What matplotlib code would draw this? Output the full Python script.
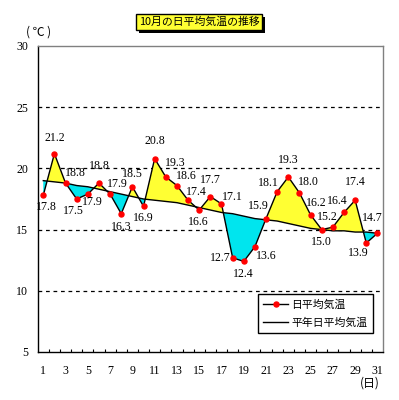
import numpy as np
import matplotlib.pyplot as plt
from matplotlib import patheffects

plt.rcParams['font.family'] = ['Liberation Serif', 'Noto Sans CJK JP']

days = np.arange(1, 32)
daily_mean = [17.8, 21.2, 18.8, 17.5, 17.9, 18.8, 17.9, 16.3, 18.5, 16.9,
              20.8, 19.3, 18.6, 17.4, 16.6, 17.7, 17.1, 12.7, 12.4, 13.6,
              15.9, 18.1, 19.3, 18.0, 16.2, 15.0, 15.2, 16.4, 17.4, 13.9, 14.7]
normal_mean = [19.0, 18.9, 18.8, 18.6, 18.5, 18.3, 18.1, 17.9, 17.7, 17.5,
               17.4, 17.3, 17.2, 17.0, 16.8, 16.6, 16.4, 16.3, 16.1, 15.9,
               15.8, 15.7, 15.5, 15.3, 15.1, 15.0, 14.9, 14.9, 14.8, 14.8, 14.7]
xtick_days = list(range(1, 32, 2))
yticks = [5, 10, 15, 20, 25, 30]

# where each value label sits relative to its point (pixels, +y = down)
label_offsets = [(3, 12), (0, -16), (10, -10), (-3, 12), (5, 8), (0, -17), (7, -10),
                 (0, 13), (0, -13), (0, 12), (0, -18), (9, -14), (9, -10), (8, -8),
                 (-1, 12), (0, -17), (11, -7), (-12, 0), (0, 13), (11, 9), (-8, -13),
                 (-9, -9), (0, -17), (9, -11), (6, -12), (0, 12), (-6, -10), (-7, -11),
                 (0, -18), (-8, 10), (-5, -15)]

act = np.array(daily_mean)
nor = np.array(normal_mean)

fig = plt.figure(figsize=(3.99, 4.0), dpi=100)
ax = fig.add_axes([37.7 / 399, 48 / 400, 345.3 / 399, 306 / 400])

ax.fill_between(days, act, nor, where=act >= nor, interpolate=True,
                color='#ffff33', linewidth=0, zorder=1)
ax.fill_between(days, act, nor, where=act <= nor, interpolate=True,
                color='#00e5ee', linewidth=0, zorder=1)
ax.plot(days, nor, color='black', linewidth=1, zorder=2, label='平年日平均気温')
ax.plot(days, act, color='black', linewidth=1, zorder=3)
ax.plot(days, act, linestyle='none', marker='o', markersize=3.6,
        color='red', zorder=4)
h1, = ax.plot([], [], color='black', linewidth=1, marker='o', markersize=3.6,
              markerfacecolor='red', markeredgecolor='red')

for d, v, (dx, dy) in zip(days, daily_mean, label_offsets):
    ax.annotate(f'{v:.1f}', (d, v), xytext=(dx * 0.72, -dy * 0.72),
                textcoords='offset points', ha='center', va='center',
                fontsize=8.6, zorder=5)

for y in [10, 15, 20, 25]:
    ax.axhline(y, color='black', linewidth=0.9, linestyle=(0, (3, 3)), zorder=0)

ax.set_xlim(0.5, 31.5)
ax.set_ylim(5, 30)
ax.set_xticks(xtick_days)
ax.set_xticks(np.arange(1.5, 31, 1), minor=True)
ax.set_yticks(yticks)
ax.tick_params(axis='x', which='major', length=0, pad=9, labelsize=8.6)
ax.tick_params(axis='x', which='minor', direction='in', length=2.5, width=0.8)
ax.tick_params(axis='y', length=0, pad=7, labelsize=8.6)

for s in ['left', 'bottom']:
    ax.spines[s].set_color('black')
    ax.spines[s].set_linewidth(1)
for s in ['top', 'right']:
    ax.spines[s].set_color('#808080')
    ax.spines[s].set_linewidth(1)

handles = [h1, ax.get_lines()[0]]
leg = ax.legend(handles, ['日平均気温', '平年日平均気温'], loc='lower right',
                bbox_to_anchor=(0.971, 0.062), borderaxespad=0, fancybox=False,
                edgecolor='black', framealpha=1, handlelength=2.3,
                prop={'family': 'Noto Sans CJK JP', 'size': 7.8},
                labelspacing=0.7, borderpad=0.5, handletextpad=0.3)
leg.get_frame().set_linewidth(1)

t = fig.text(199 / 399, 1 - 22 / 400, '10月の日平均気温の推移', ha='center', va='center',
             fontsize=7.8, family='Noto Sans CJK JP',
             bbox=dict(boxstyle='square,pad=0.25', facecolor='#ffff33',
                       edgecolor='black', linewidth=1))
t.get_bbox_patch().set_path_effects([
    patheffects.withSimplePatchShadow(offset=(2, -2), shadow_rgbFace='black', alpha=1)])

fig.text(38.5 / 399, 1 - 32 / 400, '( ℃ )', ha='center', va='center',
         fontsize=8.6, family='Noto Sans CJK JP')
fig.text(370 / 399, 1 - 383 / 400, '(日)', ha='center', va='center',
         fontsize=8.6, family='Noto Sans CJK JP')

fig.savefig('out.png', dpi=100, facecolor='white')
